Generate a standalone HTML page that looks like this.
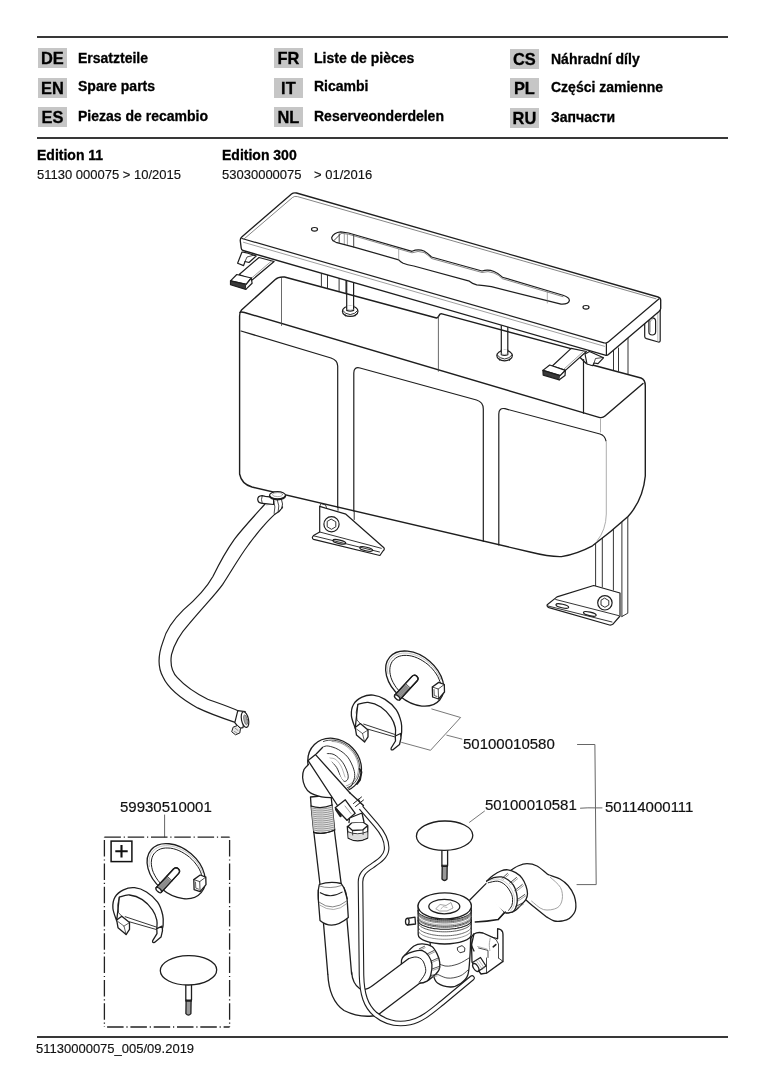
<!DOCTYPE html>
<html><head><meta charset="utf-8">
<style>
*{margin:0;padding:0;box-sizing:border-box}
html,body{width:763px;height:1080px;background:#fff;overflow:hidden}
body{position:relative;font-family:"Liberation Sans",sans-serif;color:#111;-webkit-font-smoothing:antialiased}
.code,.lab,.t,.num{will-change:transform}
.hr{position:absolute;left:37px;width:691px;height:2px;background:#383838}
.code{position:absolute;width:28.8px;height:19.6px;background:#c6c6c6;font-weight:bold;font-size:16.4px;line-height:21.6px;text-align:center;color:#000;-webkit-text-stroke:0.3px #000}
.lab{position:absolute;font-weight:bold;font-size:14px;line-height:14px;color:#000;white-space:nowrap;-webkit-text-stroke:0.3px #000}
.t{position:absolute;white-space:nowrap;line-height:1;color:#111;-webkit-text-stroke:0.15px #111}
.num{position:absolute;white-space:nowrap;font-size:15px;line-height:15px;color:#111;-webkit-text-stroke:0.2px #111}
svg{position:absolute;left:0;top:0}
</style></head><body>
<div class="hr" style="top:35.5px"></div>
<div class="hr" style="top:137px"></div>
<div class="hr" style="top:1036px"></div>

<div class="code" style="left:38px;top:48.2px">DE</div>
<div class="code" style="left:38px;top:77.7px">EN</div>
<div class="code" style="left:38px;top:107px">ES</div>
<div class="code" style="left:274.2px;top:48.2px">FR</div>
<div class="code" style="left:274.2px;top:77.7px">IT</div>
<div class="code" style="left:274.2px;top:107px">NL</div>
<div class="code" style="left:510.3px;top:48.9px">CS</div>
<div class="code" style="left:510.3px;top:78.2px">PL</div>
<div class="code" style="left:510.3px;top:107.5px">RU</div>

<div class="lab" style="left:77.5px;top:51px">Ersatzteile</div>
<div class="lab" style="left:77.5px;top:79.4px">Spare parts</div>
<div class="lab" style="left:77.5px;top:109.2px">Piezas de recambio</div>
<div class="lab" style="left:314px;top:51px">Liste de pièces</div>
<div class="lab" style="left:314px;top:79.4px">Ricambi</div>
<div class="lab" style="left:314px;top:109.2px">Reserveonderdelen</div>
<div class="lab" style="left:550.5px;top:51.5px">Náhradní díly</div>
<div class="lab" style="left:550.5px;top:79.9px">Części zamienne</div>
<div class="lab" style="left:550.5px;top:109.7px">Запчасти</div>

<div class="lab" style="left:37px;top:148px">Edition 11</div>
<div class="t" style="left:37px;top:168px;font-size:13px">51130 000075 &gt; 10/2015</div>
<div class="lab" style="left:221.5px;top:148px">Edition 300</div>
<div class="t" style="left:221.5px;top:168px;font-size:13px">53030000075</div>
<div class="t" style="left:313.5px;top:168px;font-size:13px">&gt; 01/2016</div>

<div class="t" style="left:36px;top:1042px;font-size:13px">51130000075_005/09.2019</div>

<div class="num" style="left:463px;top:735.5px">50100010580</div>
<div class="num" style="left:485px;top:797px">50100010581</div>
<div class="num" style="left:604.8px;top:799.3px">50114000111</div>
<div class="num" style="left:120px;top:799.3px">59930510001</div>

<svg width="763" height="1080" viewBox="0 0 763 1080" fill="none" stroke="#1e1e1e" stroke-width="1.2" stroke-linejoin="round" stroke-linecap="round">
<!-- ===== RAILS (behind) ===== -->
<g stroke-width="0.9">
<path d="M321.4,270 V286 M327.5,272 V288 M339.1,275 V291.2 M345.9,277 V293"/>
<path d="M613.5,350 V369.7 M618.5,348 V371 M628,338 V373.8"/>
<path d="M595.6,530 V586 M602.3,525 V587 M613.4,515 V590 M621.9,505 V616.5 M627.8,495 V613.2 L621.9,616.5"/>
<path d="M338,480 V510.3 M354.2,480 V519.5"/>
</g>
<!-- ===== TANK ===== -->
<g id="tank">
<path d="M239.6,474 V316 Q239.6,312 241.5,310 L275.3,279.5 Q278.5,276.5 284.5,277 L436.5,318 Q438,317.8 439,315.6 Q440,313.4 442,313.9 L571,348.6 L586,363.2 L641,378 Q645.3,379.5 645.3,386 V476 Q643,500 628,516.5 Q612,531 592.5,545.8 Q577,554 561.5,556.6 Q550,557 530,552 L252,487 Q241.5,484 239.6,474 Z" fill="#fff" stroke-width="1.4"/>
<path d="M240,312.5 Q241,311.5 244.5,312.5 L599,417.3 Q602.5,418.3 605,416 L643,383.5" stroke-width="1.4"/>
<!-- inner verticals -->
<path d="M281.5,278.5 V325.5" stroke-width="0.8" stroke="#444"/>
<path d="M438.4,316.5 V371.3" stroke-width="0.8" stroke="#444"/>
<path d="M583.5,359.5 V413.2" />
<!-- right rim front corner short vertical -->
<path d="M600.5,419 V432" stroke="#999" stroke-width="0.8"/>
<!-- left panel -->
<path d="M241,331 L331,358 Q337.7,360.3 337.7,366 V507.5"/>
<!-- middle panel -->
<path d="M353.8,511 V373 Q353.8,366.5 360,368 L476.5,400 Q483.3,402 483.3,409 V541.3"/>
<!-- right panel -->
<path d="M498.8,545 V414 Q498.8,407.5 505,408.7 L600,434 Q605,435.5 606,441"/>
<path d="M606.3,442 V514 Q606,530 597,541" stroke="#999" stroke-width="0.8"/>
</g>
<!-- rods -->
<path d="M346.7,280 V310.7 M353.6,281.5 V310.7" />
<ellipse cx="350.2" cy="311.2" rx="7.8" ry="5.2" fill="#fff"/>
<path d="M342.59999999999997,310.4 Q345.2,314.2 350.2,314.59999999999997 Q355.2,314.2 357.8,310.4" stroke-width="0.9"/>
<path d="M345.0,314.4 L345.4,316.09999999999997 M355.4,314.4 L355.0,316.09999999999997" stroke-width="0.8"/>
<path d="M346.7,305.59999999999997 V310.4 Q350.2,311.8 353.6,310.4 V305.59999999999997" fill="#fff"/>
<path d="M346.9,309.59999999999997 Q350.2,311.0 353.40000000000003,309.59999999999997" stroke="#888" stroke-width="0.7"/>
<path d="M501.3,322 V355.1 M507.8,323.5 V355.1" />
<ellipse cx="504.6" cy="355.6" rx="7.8" ry="5.2" fill="#fff"/>
<path d="M497.0,354.8 Q499.6,358.6 504.6,359.0 Q509.6,358.6 512.2,354.8" stroke-width="0.9"/>
<path d="M499.40000000000003,358.8 L499.8,360.5 M509.8,358.8 L509.40000000000003,360.5" stroke-width="0.8"/>
<path d="M501.3,350.0 V354.8 Q504.6,356.20000000000005 507.8,354.8 V350.0" fill="#fff"/>
<path d="M501.5,354.0 Q504.6,355.40000000000003 507.6,354.0" stroke="#888" stroke-width="0.7"/>
<!-- ===== CLIPS ===== -->
<g id="clipL">
<path d="M242,252 L237.6,263.3 L243.6,265.6 L245,261.5 L249,262.5 L256.2,256 L248,253.2 Z" fill="#fff"/>
<path d="M245,261.5 L247,257 L254.5,255" stroke-width="0.8"/>
<path d="M239.2,274.5 L259,257.5 L274.1,261.5 L252.1,280 Z" fill="#fff"/>
<path d="M250.5,279 L271.5,261" stroke="#777" stroke-width="0.7"/>
<path d="M236.8,274.5 L251.3,278 L246.2,284.3 L230.5,280.8 Z" fill="#fff"/>
<path d="M230.5,280.8 L246.2,284.3 L245.8,289.4 L230.5,284.8 Z" fill="#3a3a3a"/>
<path d="M246.2,284.3 L251.3,278 L252.1,283.3 L245.8,289.4" fill="#fff"/>
</g>
<g id="clipR">
<path d="M585,354 L587,364 L592.7,365.7 L594,363 L598,363.7 L603.5,357.8 L594,353.5 L589.5,351.5 Z" fill="#fff"/>
<path d="M594,363 L595.5,358.5 L603,357.5" stroke-width="0.8"/>
<path d="M552.3,366 L571.2,348.4 L586.4,351.5 L565.4,370.4 Z" fill="#fff"/>
<path d="M563.5,369.5 L584,351" stroke="#777" stroke-width="0.7"/>
<path d="M549.7,365 L565.4,370.4 L560.2,375.6 L542.9,370.4 Z" fill="#fff"/>
<path d="M542.9,370.4 L560.2,375.6 L559.3,379.8 L543.2,375.1 Z" fill="#3a3a3a"/>
<path d="M560.2,375.6 L565.4,370.4 L565,375.6 L559.3,379.8" fill="#fff"/>
</g>
<!-- right mounting ear -->
<path d="M644.7,318 L644.7,336.5 Q644.7,338 646.5,338.6 L658.3,342 Q660.2,342.4 660.2,340.5 L660.2,305" fill="#fff"/>
<path d="M657.8,313 V341" stroke="#999" stroke-width="0.7"/>
<path d="M648.9,321 Q648.9,317.8 652.2,317.8 Q655.6,317.8 655.6,321 V331.8 Q655.6,335 652.2,335 Q648.9,335 648.9,331.8 Z" fill="#fff"/>
<path d="M650.2,321.5 Q650.5,319.5 652.2,319.5 M650.2,321.5 V332" stroke="#777" stroke-width="0.7"/>
<!-- ===== TOP PLATE ===== -->
<g id="plate">
<path d="M296.5,193 L658,297 Q661,298 660.7,301 L660.7,308.5 Q660.5,310 659,311.5 L609,354 Q607.5,355.5 606,355.4 L243,250.5 Q241.3,250 241.2,248 L240.3,241 Q240,238.5 242,236.8 L291.5,194 Q293.5,192.4 296.5,193 Z" fill="#fff" stroke-width="1.35"/>
<path d="M242,238.5 L604,342.8 Q606.5,343.6 608.5,341.8 L658.8,299" />
<path d="M606.4,343.5 V355" />
<path d="M244,239 L292.5,197.5 Q294.5,195.8 297.5,196.6 L656,298.8" stroke="#666" stroke-width="0.8"/>
<path d="M243.5,242.3 L604.5,346.3" stroke="#777" stroke-width="0.7"/>
<!-- slot -->
<path d="M340.7,231.8 L348.6,233 L412,251.3 Q418,248.8 424,251 Q428,253.5 431.5,257 L482,271 Q488,269 494,271.5 Q499,273.5 502.4,277.2 L563,295.3 Q569.5,297.5 569.4,300.5 Q568.5,304.5 561,304.1 L491.4,286.7 Q484,285.5 476.7,284.9 Q472,283.5 469.4,281.2 L413.8,266 Q407,264.8 403.2,263.3 Q400.5,261.7 398.7,259.8 L354.1,247.2 L336,242.3 Q331.5,240.5 331.7,237.5 Q333.5,232.5 340.7,231.8 Z" fill="#fff"/>
<path d="M341,233.2 L348.6,234.3 L412,252.8 Q418,250.3 424,252.5 Q428,255 431.5,258.5 L482,272.5 Q488,270.5 494,273 Q499,275 502.4,278.7 L563,296.7" stroke="#555" stroke-width="0.7"/>
<path d="M333.6,240.9 L340.7,233.8 M339.2,233.8 V242.4 M353.7,235.2 V247.2" stroke="#333" stroke-width="0.9"/>
<path d="M344.3,234 V243.6 M347.4,234.5 V244.6" stroke="#777" stroke-width="0.7"/>
<path d="M398.7,249.2 V259.8 M547.3,291.3 V303" stroke="#777" stroke-width="0.6"/>
<ellipse cx="314.5" cy="229.3" rx="3" ry="1.8"/>
<ellipse cx="586" cy="307.3" rx="3" ry="1.8"/>
</g>
<!-- ===== FEET ===== -->
<g id="footL">
<path d="M319.7,506.4 L345.9,514.2 L383.9,547.7 Q385,549.5 383,551 L379.9,555.5 L313.6,539.4 Q312,538.8 312.5,537 L313.5,535.5 L319.7,532 Z" fill="#fff"/>
<path d="M319.7,532 L381.3,548.3 M313.5,535.8 L379.5,552" stroke-width="0.9"/>
<path d="M319.7,506.4 L321,503.5 L325.5,505 L326.5,507.5" stroke-width="0.8"/>
<circle cx="331.5" cy="524.3" r="7.6" fill="#fff"/>
<path d="M331.5,519.3 L335.8,521.8 L335.8,526.8 L331.5,529.3 L327.2,526.8 L327.2,521.8 Z" stroke-width="0.9"/>
<ellipse cx="339.3" cy="541.8" rx="6.6" ry="1.8" transform="rotate(13 339.3 541.8)"/>
<ellipse cx="366.2" cy="549" rx="6.6" ry="1.8" transform="rotate(13 366.2 549)"/>
</g>
<g id="footR">
<path d="M593.7,585.5 L620,593 V616 L613.4,623.7 Q611.5,625.3 609.5,625 L549,607.6 Q546.5,606.5 547.2,604.7 L557,596.9 Z" fill="#fff"/>
<path d="M555.7,599.5 L618.6,615.6 M548,606 L612,622" stroke-width="0.9"/>
<circle cx="604.9" cy="602.8" r="7.2" fill="#fff"/>
<path d="M604.9,598.3 L608.8,600.6 L608.8,605 L604.9,607.3 L601,605 L601,600.6 Z" stroke-width="0.9"/>
<ellipse cx="562.3" cy="606" rx="6.5" ry="1.8" transform="rotate(13 562.3 606)"/>
<ellipse cx="589.8" cy="613.9" rx="6.5" ry="1.8" transform="rotate(13 589.8 613.9)"/>
</g>
<!-- ===== HOSE ===== -->
<g id="hose">
<path d="M265,504 C257,513 243,528 234.5,539.1 C226,551 218,566 212.9,576.5 C207,587 195,600 183.4,609.9 C173,620 166,630 163,641.6 C158,655 158,668 163,677 C168,688 178,697 197.6,707.9 C208,713 222,718 235.1,722.4"/>
<path d="M282.2,506.5 C279,511 272,516 264,525.4 C257,533 252,540 248.3,545 C240,556 232,570 222.7,584.4 C216,594 204,606 189.3,623.7 C180,634 174,645 171.5,654.6 C170,664 172,672 177.4,677.7 C184,685 193,692 207.7,699.3 C218,703 230,707 238,710.8"/>
<path d="M237.8,710.6 L245.2,711.6 L243,727.6 L240.5,728.2 Q237,726 234.8,722.6 Z" fill="#fff"/>
<ellipse cx="245" cy="719.6" rx="3.5" ry="8" transform="rotate(-12 245 719.6)" fill="#fff"/>
<ellipse cx="245.6" cy="719.8" rx="1.7" ry="5" transform="rotate(-12 245.6 719.8)" fill="#aaa" stroke="#555" stroke-width="0.6"/>
<path d="M233.5,727 L237.5,725.5 L240.5,728.5 L239.8,733 L235.5,734.8 L232,732 Z" fill="#e8e8e8" stroke-width="1"/>
<path d="M235,728 L238,730.5 M234.5,731.5 L237.5,733.5" stroke="#555" stroke-width="0.6"/>
<!-- connector at tank -->
<path d="M265,503.5 L273.5,500 L282,499 Q284,503 282.5,507.5 Q280,512 275.5,514.5 Z" fill="#fff" stroke="none"/>
<path d="M273.6,500.2 Q276,507 274.2,513.3 M277.3,499.8 Q280,506 278.2,511.8" stroke-width="0.8"/>
<path d="M282.5,507 Q280,512 274.8,514.2"/>
<path d="M281.5,499.3 Q283.5,504 281.8,508.5" stroke-width="0.9"/>
<path d="M275,501.5 L266,503.5 M274.8,503.5 L266.5,505" stroke="#999" stroke-width="0.6"/>
<path d="M265.3,496.3 L262,495.6 Q257.6,496 257.7,499.4 Q257.9,503 262.2,503.4 L265.3,503.7 L273.6,504.5 L273.6,497.3 Z" fill="#fff"/>
<path d="M262.2,495.8 Q260.6,499.5 262.2,503.3" stroke-width="0.8"/>
<ellipse cx="277.5" cy="495.3" rx="8" ry="3.6" fill="#fff"/>
<path d="M269.8,496.3 Q270.5,499.3 277.5,499.6 Q284.5,499.3 285.3,496.3" stroke-width="1.7"/>
<ellipse cx="277.5" cy="494.6" rx="5" ry="2" stroke="#777" stroke-width="0.6"/>
</g>
<g stroke-width="1.3"><!--LOWER-->
<path d="M509.6,871.2 C511.0,870.3 515.1,867.2 518.0,866.0 C520.9,864.8 523.8,863.7 527.0,863.7 C530.2,863.7 533.7,864.3 537.0,866.0 C540.3,867.7 544.8,872.2 546.9,873.7 C549.0,875.2 549.0,874.8 549.4,875.0 L549.4,875.0 C551.2,875.7 556.9,877.2 560.0,879.0 C563.1,880.8 565.6,882.7 568.0,885.5 C570.4,888.3 573.0,892.0 574.3,896.0 C575.5,900.0 576.3,906.0 575.5,909.8 C574.7,913.5 571.5,916.6 569.3,918.5 C567.0,920.4 564.5,920.6 562.0,921.0 C559.5,921.4 556.9,921.6 554.4,921.0 C551.9,920.4 548.1,917.8 546.9,917.2 L546.9,917.2 C544.8,915.6 538.0,910.2 534.5,907.3 C531.0,904.4 527.2,901.0 525.7,899.8 Z" fill="#fff"/>
<path d="M550.3,877.3 C552.0,879.0 558.5,883.8 560.5,887.5 C562.5,891.2 562.8,896.0 562.2,899.4 C561.6,902.8 560.2,906.2 557.1,907.9 C554.0,909.6 547.8,910.7 543.5,909.6 C539.2,908.5 533.6,902.5 531.6,901.1" stroke="#999" stroke-width="0.9"/>
<path d="M469.8,900 L486.6,881.2 L512.6,911.9 L498.2,919.5 L475.2,922 Z" fill="#fff" stroke="none"/>
<path d="M475.2,922 Q487,921.5 498.2,919.5 L506.9,909.5"/>
<path d="M486.6,881.2 C487.7,880.2 490.6,877.2 493.0,875.5 C495.4,873.8 498.3,872.0 500.8,871.0 C503.3,870.0 505.4,869.5 507.9,869.8 C510.4,870.1 513.4,871.2 515.7,872.6 C518.1,874.0 520.3,875.9 522.0,878.1 C523.7,880.3 525.1,883.4 526.0,886.0 C526.9,888.6 527.5,891.6 527.5,893.8 C527.5,896.0 526.9,897.6 526.0,899.3 C525.1,901.0 523.7,902.2 522.0,904.0 C520.3,905.8 517.8,908.8 515.7,910.3 C513.6,911.8 511.3,912.3 509.5,912.7 C507.7,913.1 505.8,912.5 505.0,912.5 L498,905 Z" fill="#fff"/>
<path d="M486.6,881.2 C487.8,880.6 491.2,878.4 493.7,877.7 C496.2,877.0 499.2,876.6 501.6,876.9 C504.0,877.2 505.9,878.3 507.9,879.7 C509.9,881.1 512.0,883.0 513.4,885.2 C514.8,887.4 515.9,890.4 516.5,893.0 C517.1,895.6 517.4,898.4 517.3,900.9 C517.2,903.4 516.5,906.2 515.7,908.0 C514.9,909.8 514.2,911.1 512.6,911.9 C511.0,912.7 507.1,912.8 506.0,913.0 L497,906 L486,884 Z" fill="#fff" stroke="none"/>
<path d="M486.6,881.2 C487.8,880.6 491.2,878.4 493.7,877.7 C496.2,877.0 499.2,876.6 501.6,876.9 C504.0,877.2 505.9,878.3 507.9,879.7 C509.9,881.1 512.0,883.0 513.4,885.2 C514.8,887.4 515.9,890.4 516.5,893.0 C517.1,895.6 517.4,898.4 517.3,900.9 C517.2,903.4 516.5,906.2 515.7,908.0 C514.9,909.8 514.2,911.1 512.6,911.9 C511.0,912.7 507.1,912.8 506.0,913.0"/>
<path d="M488.2,882.8 C489.8,882.5 494.8,880.8 497.7,881.2 C500.6,881.6 503.3,883.2 505.5,885.2 C507.7,887.2 509.8,890.6 511.0,893.0 C512.2,895.4 512.5,897.2 512.6,899.3 C512.7,901.4 512.5,903.8 511.8,905.6 C511.1,907.4 509.2,909.5 508.7,910.3" stroke-width="1"/>
<path d="M489.5,880.4 C490.9,880.2 494.9,878.6 497.7,879.0 C500.5,879.4 504.0,880.9 506.5,883.0 C509.0,885.1 511.2,888.8 512.5,891.5 C513.8,894.2 514.3,896.8 514.5,899.3 C514.7,901.8 514.2,904.5 513.5,906.5 C512.8,908.5 511.0,910.2 510.5,911.0" stroke="#aaa" stroke-width="0.6"/>
<path d="M469.8,900 L486,883.6 M498.2,919.5 L505.5,911.9"/>
<path d="M502,878.4 L507.5,873.4" stroke="#333" stroke-width="0.85"/>
<path d="M503.1,879.6 L508.6,874.6" stroke="#777" stroke-width="0.7"/>
<path d="M509.8,883 L516.5,877.5" stroke="#333" stroke-width="0.85"/>
<path d="M510.90000000000003,884.2 L517.6,878.7" stroke="#777" stroke-width="0.7"/>
<path d="M514.8,890.5 L522.3,884.5" stroke="#333" stroke-width="0.85"/>
<path d="M515.9,891.7 L523.4,885.7" stroke="#777" stroke-width="0.7"/>
<path d="M517,899.8 L524.8,894.5" stroke="#333" stroke-width="0.85"/>
<path d="M518.1,901.0 L525.9,895.7" stroke="#777" stroke-width="0.7"/>
<path d="M515.5,906.8 L522.3,903" stroke="#333" stroke-width="0.85"/>
<path d="M516.6,908.0 L523.4,904.2" stroke="#777" stroke-width="0.7"/>
<path d="M471.5,945 L473.9,934 Q478,931.6 483,933 L492.7,937.3 Q495.5,937.8 497.6,938.8 L497.6,928.6 Q501.5,929 502.6,932 Q503.2,934 503,937 L503,961.4 L486.5,973.2 L481,974 L472,962 Z" fill="#fff"/>
<path d="M473.9,934.0 C473.4,934.7 471.4,936.2 471.0,938.0 C470.6,939.8 471.0,942.8 471.5,945.0 C472.0,947.2 473.6,950.0 474.0,951.0" />
<path d="M490.2,938.2 C490.1,939.2 489.4,942.0 489.3,944.0 C489.2,946.0 489.7,949.4 489.8,950.5" stroke="#999" stroke-width="0.9"/>
<path d="M492.7,937.3 Q497,939 498.5,944 L498.5,958 M498.5,958 L503,961.4" stroke-width="0.8"/>
<path d="M478.6,948 L488,950.4 L488,957.5 M486.5,958 L486.5,973.2" stroke-width="0.8"/>
<path d="M477.5,946.5 L487,949" stroke="#888" stroke-width="0.6"/>
<path d="M493.2,946.8 L495.8,944.6" stroke-width="1.6"/>
<path d="M472.5,962.5 L480.5,957.5 L486,966 L478,971.5 Z" fill="#fff"/>
<ellipse cx="475.8" cy="967.5" rx="2.3" ry="4.4" transform="rotate(-33 475.8 967.5)" fill="#fff"/>
<path d="M476.5,961 L482.5,969.5 M478.5,959.8 L484.3,968" stroke="#888" stroke-width="0.6"/>
<path d="M430.0,941.0 C430.2,944.5 431.0,956.4 431.5,962.0 C432.0,967.6 432.2,970.9 433.2,974.4 C434.2,977.9 434.6,980.9 437.5,983.0 C440.4,985.1 446.6,986.9 450.5,987.0 C454.4,987.1 457.7,985.5 460.6,983.5 C463.5,981.5 466.2,979.8 467.8,975.0 C469.4,970.2 469.5,961.2 470.0,955.0 C470.5,948.8 470.5,940.8 470.6,938.0" fill="#fff"/>
<path d="M432.0,960.0 C434.2,961.0 440.7,965.3 445.0,966.0 C449.3,966.7 454.0,965.3 458.0,964.0 C462.0,962.7 467.2,959.0 469.0,958.0" stroke-width="0.8"/>
<path d="M433.0,972.0 C435.3,973.0 442.5,977.3 447.0,978.0 C451.5,978.7 456.5,977.3 460.0,976.0 C463.5,974.7 466.7,971.0 468.0,970.0" stroke-width="0.8"/>
<path d="M457.7,947.5 L462,945.6 L464.9,948 L464.5,951.5 L460,952.8 L457.8,950.5 Z" fill="#fff" stroke-width="0.9"/>
<path d="M418.2,905 L418.2,934.5 A26.5,9.5 0 0 0 471.2,934.5 L471.2,905 Z" fill="#fff"/>
<path d="M471.2,923.0 L471.0,923.7 L470.6,924.4 L470.2,925.1 L469.5,925.7 L468.8,926.4 L467.9,927.0 L466.8,927.6 L465.6,928.2 L464.3,928.7 L462.9,929.2 L461.4,929.7 L459.8,930.1 L458.1,930.5 L456.4,930.9 L454.5,931.1 L452.6,931.4 L450.7,931.6 L448.7,931.7 L446.7,931.8 L444.7,931.8 L442.7,931.8 L440.7,931.7 L438.7,931.6 L436.8,931.4 L434.9,931.1 L433.0,930.9 L431.3,930.5 L429.6,930.1 L428.0,929.7 L426.5,929.2 L425.1,928.7 L423.8,928.2 L422.6,927.6 L421.5,927.0 L420.6,926.4 L419.9,925.7 L419.2,925.1 L418.8,924.4 L418.4,923.7 L418.2,923.0" stroke="#333" stroke-width="0.8"/>
<path d="M471.2,927.0 L471.0,927.7 L470.6,928.4 L470.2,929.1 L469.5,929.7 L468.8,930.4 L467.9,931.0 L466.8,931.6 L465.6,932.2 L464.3,932.7 L462.9,933.2 L461.4,933.7 L459.8,934.1 L458.1,934.5 L456.4,934.9 L454.5,935.1 L452.6,935.4 L450.7,935.6 L448.7,935.7 L446.7,935.8 L444.7,935.8 L442.7,935.8 L440.7,935.7 L438.7,935.6 L436.8,935.4 L434.9,935.1 L433.0,934.9 L431.3,934.5 L429.6,934.1 L428.0,933.7 L426.5,933.2 L425.1,932.7 L423.8,932.2 L422.6,931.6 L421.5,931.0 L420.6,930.4 L419.9,929.7 L419.2,929.1 L418.8,928.4 L418.4,927.7 L418.2,927.0" stroke="#444" stroke-width="0.8"/>
<path d="M471.2,930.5 L471.0,931.2 L470.6,931.9 L470.2,932.6 L469.5,933.2 L468.8,933.9 L467.9,934.5 L466.8,935.1 L465.6,935.7 L464.3,936.2 L462.9,936.7 L461.4,937.2 L459.8,937.6 L458.1,938.0 L456.4,938.4 L454.5,938.6 L452.6,938.9 L450.7,939.1 L448.7,939.2 L446.7,939.3 L444.7,939.3 L442.7,939.3 L440.7,939.2 L438.7,939.1 L436.8,938.9 L434.9,938.6 L433.0,938.4 L431.3,938.0 L429.6,937.6 L428.0,937.2 L426.5,936.7 L425.1,936.2 L423.8,935.7 L422.6,935.1 L421.5,934.5 L420.6,933.9 L419.9,933.2 L419.2,932.6 L418.8,931.9 L418.4,931.2 L418.2,930.5" stroke="#666" stroke-width="0.7"/>
<path d="M471.4,912.0 L471.2,912.7 L470.8,913.4 L470.4,914.1 L469.7,914.7 L468.9,915.4 L468.0,916.0 L467.0,916.6 L465.8,917.2 L464.5,917.7 L463.1,918.2 L461.6,918.7 L459.9,919.1 L458.2,919.5 L456.4,919.9 L454.6,920.1 L452.7,920.4 L450.7,920.6 L448.7,920.7 L446.7,920.8 L444.7,920.8 L442.7,920.8 L440.7,920.7 L438.7,920.6 L436.7,920.4 L434.8,920.1 L433.0,919.9 L431.2,919.5 L429.5,919.1 L427.8,918.7 L426.3,918.2 L424.9,917.7 L423.6,917.2 L422.4,916.6 L421.4,916.0 L420.5,915.4 L419.7,914.7 L419.0,914.1 L418.6,913.4 L418.2,912.7 L418.0,912.0" stroke="#444" stroke-width="0.7"/>
<path d="M471.4,913.1 L471.2,913.8 L470.8,914.5 L470.4,915.2 L469.7,915.8 L468.9,916.5 L468.0,917.1 L467.0,917.7 L465.8,918.3 L464.5,918.8 L463.1,919.3 L461.6,919.8 L459.9,920.2 L458.2,920.6 L456.4,921.0 L454.6,921.2 L452.7,921.5 L450.7,921.7 L448.7,921.8 L446.7,921.9 L444.7,921.9 L442.7,921.9 L440.7,921.8 L438.7,921.7 L436.7,921.5 L434.8,921.2 L433.0,921.0 L431.2,920.6 L429.5,920.2 L427.8,919.8 L426.3,919.3 L424.9,918.8 L423.6,918.3 L422.4,917.7 L421.4,917.1 L420.5,916.5 L419.7,915.8 L419.0,915.2 L418.6,914.5 L418.2,913.8 L418.0,913.1" stroke="#333" stroke-width="0.8"/>
<path d="M471.4,914.2 L471.2,914.9 L470.8,915.6 L470.4,916.3 L469.7,916.9 L468.9,917.6 L468.0,918.2 L467.0,918.8 L465.8,919.4 L464.5,919.9 L463.1,920.4 L461.6,920.9 L459.9,921.3 L458.2,921.7 L456.4,922.1 L454.6,922.3 L452.7,922.6 L450.7,922.8 L448.7,922.9 L446.7,923.0 L444.7,923.0 L442.7,923.0 L440.7,922.9 L438.7,922.8 L436.7,922.6 L434.8,922.3 L433.0,922.1 L431.2,921.7 L429.5,921.3 L427.8,920.9 L426.3,920.4 L424.9,919.9 L423.6,919.4 L422.4,918.8 L421.4,918.2 L420.5,917.6 L419.7,916.9 L419.0,916.3 L418.6,915.6 L418.2,914.9 L418.0,914.2" stroke="#555" stroke-width="0.7"/>
<path d="M471.4,916.1 L471.2,916.8 L470.8,917.5 L470.4,918.2 L469.7,918.8 L468.9,919.5 L468.0,920.1 L467.0,920.7 L465.8,921.3 L464.5,921.8 L463.1,922.3 L461.6,922.8 L459.9,923.2 L458.2,923.6 L456.4,924.0 L454.6,924.2 L452.7,924.5 L450.7,924.7 L448.7,924.8 L446.7,924.9 L444.7,924.9 L442.7,924.9 L440.7,924.8 L438.7,924.7 L436.7,924.5 L434.8,924.2 L433.0,924.0 L431.2,923.6 L429.5,923.2 L427.8,922.8 L426.3,922.3 L424.9,921.8 L423.6,921.3 L422.4,920.7 L421.4,920.1 L420.5,919.5 L419.7,918.8 L419.0,918.2 L418.6,917.5 L418.2,916.8 L418.0,916.1" stroke="#777" stroke-width="0.6"/>
<path d="M471.4,917.4 L471.2,918.1 L470.8,918.8 L470.4,919.5 L469.7,920.1 L468.9,920.8 L468.0,921.4 L467.0,922.0 L465.8,922.6 L464.5,923.1 L463.1,923.6 L461.6,924.1 L459.9,924.5 L458.2,924.9 L456.4,925.3 L454.6,925.5 L452.7,925.8 L450.7,926.0 L448.7,926.1 L446.7,926.2 L444.7,926.2 L442.7,926.2 L440.7,926.1 L438.7,926.0 L436.7,925.8 L434.8,925.5 L433.0,925.3 L431.2,924.9 L429.5,924.5 L427.8,924.1 L426.3,923.6 L424.9,923.1 L423.6,922.6 L422.4,922.0 L421.4,921.4 L420.5,920.8 L419.7,920.1 L419.0,919.5 L418.6,918.8 L418.2,918.1 L418.0,917.4" stroke="#333" stroke-width="0.9"/>
<path d="M471.4,918.5 L471.2,919.2 L470.8,919.9 L470.4,920.6 L469.7,921.2 L468.9,921.9 L468.0,922.5 L467.0,923.1 L465.8,923.7 L464.5,924.2 L463.1,924.7 L461.6,925.2 L459.9,925.6 L458.2,926.0 L456.4,926.4 L454.6,926.6 L452.7,926.9 L450.7,927.1 L448.7,927.2 L446.7,927.3 L444.7,927.3 L442.7,927.3 L440.7,927.2 L438.7,927.1 L436.7,926.9 L434.8,926.6 L433.0,926.4 L431.2,926.0 L429.5,925.6 L427.8,925.2 L426.3,924.7 L424.9,924.2 L423.6,923.7 L422.4,923.1 L421.4,922.5 L420.5,921.9 L419.7,921.2 L419.0,920.6 L418.6,919.9 L418.2,919.2 L418.0,918.5" stroke="#444" stroke-width="0.8"/>
<path d="M471.5,920.0 L471.4,920.7 L471.2,921.5 L470.8,922.2 L470.2,922.9 L469.5,923.6 L468.6,924.2 L467.6,924.9 L466.4,925.5 L465.1,926.0 L463.7,926.6 L462.1,927.1 L460.5,927.5 L458.7,927.9 L456.9,928.3 L455.0,928.6 L453.0,928.8 L451.0,929.0 L448.9,929.2 L446.8,929.3 L444.7,929.3 L442.6,929.3 L440.5,929.2 L438.4,929.0 L436.4,928.8 L434.4,928.6 L432.5,928.3 L430.7,927.9 L428.9,927.5 L427.3,927.1 L425.7,926.6 L424.3,926.0 L423.0,925.5 L421.8,924.9 L420.8,924.2 L419.9,923.6 L419.2,922.9 L418.6,922.2 L418.2,921.5 L418.0,920.7 L417.9,920.0" stroke-width="1.1"/>
<path d="M471.5,910.3 L471.4,911.1 L471.2,911.8 L470.8,912.5 L470.2,913.3 L469.5,914.0 L468.6,914.7 L467.6,915.3 L466.4,915.9 L465.1,916.5 L463.7,917.1 L462.1,917.6 L460.5,918.1 L458.7,918.5 L456.9,918.9 L455.0,919.2 L453.0,919.4 L451.0,919.6 L448.9,919.8 L446.8,919.9 L444.7,919.9 L442.6,919.9 L440.5,919.8 L438.4,919.6 L436.4,919.4 L434.4,919.2 L432.5,918.9 L430.7,918.5 L428.9,918.1 L427.3,917.6 L425.7,917.1 L424.3,916.5 L423.0,915.9 L421.8,915.3 L420.8,914.7 L419.9,914.0 L419.2,913.3 L418.6,912.5 L418.2,911.8 L418.0,911.1 L417.9,910.3" stroke-width="1"/>
<ellipse cx="444.7" cy="905.9" rx="26.7" ry="13" transform="rotate(0 444.7 905.9)" fill="#fff"/>
<ellipse cx="444.3" cy="906.6" rx="15.5" ry="7.2" transform="rotate(0 444.3 906.6)" />
<path d="M436,908.5 L440,904.5 L446,905.5 L451,902.5 L453,908 L447,911 L440,911 Z" stroke="#666" stroke-width="0.6"/>
<path d="M441,909 L443,906.5 L447,907.5" stroke="#777" stroke-width="0.5"/>
<path d="M407,918.5 L415,917.2 L415.5,924 L407.5,925 Z" fill="#fff"/>
<ellipse cx="407.3" cy="921.6" rx="1.8" ry="3.3" transform="rotate(0 407.3 921.6)" fill="#fff"/>
<path d="M404.6,955.4 C406.2,953.8 411.0,947.9 414.0,946.0 C417.0,944.1 419.4,943.8 422.4,943.9 C425.4,944.0 429.4,944.8 431.9,946.5 C434.3,948.2 435.8,951.3 437.1,953.9 C438.4,956.5 439.4,959.7 439.7,962.3 C440.0,964.9 440.0,967.5 439.2,969.6 C438.4,971.7 436.8,973.0 435.0,974.8 C433.2,976.5 429.8,979.2 428.7,980.1 L420,982 L402,962 Z" fill="#fff"/>
<path d="M419.3,948.8 L424.5,946.3" stroke="#333" stroke-width="0.85"/>
<path d="M419.90000000000003,950.1999999999999 L425.1,947.6999999999999" stroke="#777" stroke-width="0.7"/>
<path d="M427,954 L434,950.5" stroke="#333" stroke-width="0.85"/>
<path d="M427.6,955.4 L434.6,951.9" stroke="#777" stroke-width="0.7"/>
<path d="M430.8,961.3 L438.2,958" stroke="#333" stroke-width="0.85"/>
<path d="M431.40000000000003,962.6999999999999 L438.8,959.4" stroke="#777" stroke-width="0.7"/>
<path d="M432.5,968.8 L439,966.5" stroke="#333" stroke-width="0.85"/>
<path d="M433.1,970.1999999999999 L439.6,967.9" stroke="#777" stroke-width="0.7"/>
<path d="M430.5,975.5 L436.5,974.5" stroke="#333" stroke-width="0.85"/>
<path d="M431.1,976.9 L437.1,975.9" stroke="#777" stroke-width="0.7"/>
<path d="M401.5,960.2 C401.9,957.8 402.5,956.9 404.6,955.4 C406.7,953.9 411.0,952.1 414.0,951.3 C417.0,950.5 419.9,949.9 422.4,950.7 C424.8,951.5 427.1,953.7 428.7,956.0 C430.3,958.3 431.5,961.3 431.9,964.4 C432.2,967.5 431.6,972.0 430.8,974.8 C430.0,977.6 429.4,979.7 427.1,981.1 C424.8,982.5 420.2,983.4 417.2,983.2 C414.2,983.0 411.4,982.2 409.0,980.0 C406.6,977.8 403.8,973.3 402.5,970.0 C401.2,966.7 401.1,962.6 401.5,960.2 Z" fill="#fff"/>
<path d="M327.8,973.7 Q329,1000 344,1010.5 Q358,1017.5 372.4,1016 Q378,1015.5 383,1011 L420,983 L423,963 L408.8,958.6 L373.1,985.3 Q366,991 359.8,988.7 Q352.5,984 351.6,972 Z" fill="#fff" stroke="none"/>
<path d="M327.8,973.7 Q329,1000 344,1010.5 Q358,1017.5 372.4,1016 Q378,1015.5 383,1011 L420,983"/>
<path d="M351.6,972 Q352.5,984 359.8,988.7 Q366,991 373.1,985.3 L408.8,958.6"/>
<path d="M408.8,958.6 C410.0,958.3 413.8,956.7 416.1,957.0 C418.4,957.3 420.8,958.3 422.4,960.2 C424.0,962.1 425.2,966.2 425.6,968.6 C426.0,971.0 425.6,972.5 424.5,974.8 C423.4,977.1 420.2,981.0 419.3,982.2" stroke-width="1"/>
<path d="M313.8,832 L320.3,887 L323.4,926 L327.8,974 L351.6,974 L347.2,926 L341.4,885.7 L334.3,830 Z" fill="#fff" stroke="none"/>
<path d="M313.8,832 L320.3,887 M334.3,830 L341.4,885.7 M322.8,915 L327.8,974 M346.6,915 L351.6,974"/>
<path d="M319.3,884.5 L318.3,890 L318.3,899.2 L320,920.4 Q332.4,931 348.3,917.5 L347.1,898.6 L344,887.8 L341.2,883.5 Q330,881 319.3,884.5 Z" fill="#fff"/>
<path d="M320.3,892.7 Q330.6,899 342.1,892.1" stroke-width="1.1"/>
<path d="M319.3,886 Q330,889.5 341.5,885.5" stroke="#555" stroke-width="0.7"/>
<path d="M318.3,899.2 L347.1,898.6" stroke="none"/>
<path d="M319.3,902.3 Q332.5,912.5 347,900.8" stroke="#666" stroke-width="0.8"/>
<path d="M319.5,905 Q334,915 346.9,903.5" stroke="#888" stroke-width="0.7"/>
<path d="M318.3,890 Q318,895 318.4,899.5 M344,887.8 Q346.5,892 347.1,898.6" stroke-width="1.1"/>
<path d="M357,803 C364,811 370,818 376,825 C383,833 387.5,842 386.5,850 C385.5,857 379,861 372,866 C364,871 360.5,875 360.5,882 L361.5,975 C362,995 366,1006 375,1014 C386,1023 398,1025 410,1022.5 C422,1020 432,1011 442,1003 L472,978" stroke="#1e1e1e" stroke-width="5.6"/>
<path d="M357,803 C364,811 370,818 376,825 C383,833 387.5,842 386.5,850 C385.5,857 379,861 372,866 C364,871 360.5,875 360.5,882 L361.5,975 C362,995 366,1006 375,1014 C386,1023 398,1025 410,1022.5 C422,1020 432,1011 442,1003 L472,978" stroke="#fff" stroke-width="3.4"/>
<path d="M310.5,797 L311.1,806 L313.8,832.4 Q323,835 334.7,830 L332.1,806 L331,795 Z" fill="#fff"/>
<path d="M311.2,807 L313.6,831 Q323,834 334.5,829 L332.2,806 Q322,810 311.2,807 Z" fill="#e4e4e4" stroke="none"/>
<path d="M311.5,808 Q322,810.5 332.5,807" stroke="#555" stroke-width="0.55"/>
<path d="M311.7,810 Q322,812.5 332.7,809" stroke="#555" stroke-width="0.55"/>
<path d="M311.9,812 Q322,814.5 332.9,811" stroke="#555" stroke-width="0.55"/>
<path d="M312.1,814 Q322,816.5 333.1,813" stroke="#555" stroke-width="0.55"/>
<path d="M312.3,816 Q322,818.5 333.3,815" stroke="#555" stroke-width="0.55"/>
<path d="M312.5,818 Q322,820.5 333.5,817" stroke="#555" stroke-width="0.55"/>
<path d="M312.7,820 Q322,822.5 333.7,819" stroke="#555" stroke-width="0.55"/>
<path d="M312.9,822 Q322,824.5 333.9,821" stroke="#555" stroke-width="0.55"/>
<path d="M313.1,824 Q322,826.5 334.1,823" stroke="#555" stroke-width="0.55"/>
<path d="M313.3,826 Q322,828.5 334.3,825" stroke="#555" stroke-width="0.55"/>
<path d="M313.5,828 Q322,830.5 334.5,827" stroke="#555" stroke-width="0.55"/>
<path d="M313.7,830 Q322,832.5 334.7,829" stroke="#555" stroke-width="0.55"/>
<path d="M311.1,806 Q321,809.5 332.1,805 M313.8,832.4 Q323,835 334.7,830"/>
<ellipse cx="334.6" cy="765.1" rx="28.8" ry="24.8" transform="rotate(45.5 334.6 765.1)" fill="#fff"/>
<path d="M323.4,741.5 L325.9,740.7 L328.5,740.3 L331.2,740.1 L333.9,740.2 L336.7,740.7 L339.5,741.4 L342.2,742.5 L344.8,743.8 L347.3,745.5 L349.6,747.3 L351.8,749.4 L353.7,751.7 L355.4,754.1 L356.8,756.7 L358.0,759.4 L358.9,762.1 L359.5,764.9 L359.7,767.7 L359.7,770.4 L359.3,773.1 L358.6,775.6 L357.7,778.0 L356.4,780.3 L354.9,782.3 L353.1,784.1 L351.1,785.7 L348.9,786.9 L346.5,787.9 L343.9,788.6 L341.3,789.0 L338.6,789.1 L335.8,788.9 L333.0,788.3 L330.3,787.5 L327.6,786.3 L325.0,784.9 L322.6,783.2 L320.3,781.3 L318.2,779.1 L316.4,776.8" stroke-width="0.8"/>
<path d="M332.0,741.5 L334.2,741.6 L336.4,741.9 L338.5,742.5 L340.7,743.2 L342.8,744.1 L344.8,745.3 L346.8,746.6 L348.6,748.0 L350.3,749.6 L351.9,751.3 L353.4,753.2 L354.7,755.2 L355.8,757.2 L356.7,759.3 L357.5,761.4 L358.0,763.6 L358.3,765.8 L358.5,768.0 L358.4,770.1 L358.1,772.2 L357.6,774.2 L356.9,776.1 L356.0,777.9 L354.9,779.6 L353.7,781.1 L352.2,782.5 L350.7,783.7 L349.0,784.7 L347.1,785.6 L345.2,786.2 L343.2,786.6 L341.1,786.9 L339.0,786.9 L336.8,786.7 L334.6,786.3 L332.5,785.7 L330.3,785.0 L328.3,784.0 L326.2,782.8 L324.3,781.5" stroke="#777" stroke-width="0.7"/>
<path d="M359.5,769 L361.5,772 L360,780 L357,784" stroke-width="1.8"/>
<path d="M308.5,764.5 C307.8,765.3 305.0,767.3 304.0,769.5 C303.0,771.7 302.5,774.7 302.6,777.5 C302.8,780.3 303.6,783.9 304.9,786.5 C306.2,789.1 307.6,791.2 310.4,792.9 C313.2,794.6 318.1,796.0 321.5,796.8 C324.9,797.6 328.3,797.6 330.9,797.6 C333.5,797.6 335.8,796.9 337.2,796.5 C338.6,796.1 339.1,795.2 339.5,795.0 L330,785 Z" fill="#fff" stroke="none"/>
<path d="M308.5,764.5 C307.8,765.3 305.0,767.3 304.0,769.5 C303.0,771.7 302.5,774.7 302.6,777.5 C302.8,780.3 303.6,783.9 304.9,786.5 C306.2,789.1 307.6,791.2 310.4,792.9 C313.2,794.6 318.1,796.0 321.5,796.8 C324.9,797.6 328.3,797.6 330.9,797.6 C333.5,797.6 335.8,796.9 337.2,796.5 C338.6,796.1 339.1,795.2 339.5,795.0"/>
<path d="M323.0,747.0 C323.9,746.8 325.6,745.6 328.1,746.0 C330.7,746.4 335.0,747.6 338.3,749.5 C341.6,751.4 345.1,753.8 347.7,757.1 C350.3,760.4 352.6,765.7 353.7,769.1 C354.8,772.5 354.9,774.8 354.5,777.6 C354.1,780.4 352.2,784.2 351.1,786.1 C350.0,788.0 348.3,788.3 347.7,788.7" stroke-width="0.9"/>
<path d="M322.6,755.4 C322.9,754.7 323.7,753.8 325.6,753.7 C327.5,753.6 331.3,753.2 334.1,754.6 C336.9,756.0 340.3,759.2 342.6,762.3 C344.9,765.4 346.9,770.5 347.7,773.3 C348.5,776.1 348.3,777.9 347.7,779.3 C347.1,780.6 345.4,781.7 344.3,781.4 C343.2,781.1 342.2,779.9 340.9,777.6 C339.6,775.3 338.5,770.2 336.6,767.4 C334.8,764.6 331.9,762.2 329.8,760.6 C327.7,759.0 325.1,758.9 323.9,758.0 C322.7,757.1 322.3,756.1 322.6,755.4 Z" fill="#fff" stroke-width="0.9"/>
<path d="M327.0,758.0 C328.3,758.2 332.7,757.7 335.0,759.0 C337.3,760.3 339.3,763.0 341.0,766.0 C342.7,769.0 344.3,775.2 345.0,777.0" stroke="#888" stroke-width="0.6"/>
<path d="M308.1,760.6 L316.2,754 L321,748 L323,747 L347.7,788.7 L362.9,806 L347,820 Z" fill="#fff" stroke="none"/>
<path d="M308.1,760.6 L347,820 M316.2,755.4 L350,793 M308.1,760.6 L316.2,754 L322.5,747.5"/>
<path d="M350,793 L363.5,805.5"/>
<path d="M347.3,826.5 L348.2,838.2 Q357.5,843.5 367.6,838.2 L367.8,826.5 Z" fill="#fff"/>
<path d="M348.3,832.5 Q357.5,836.5 367.4,832.2 L367.5,837.5 Q357.5,842.5 348.5,837.6 Z" fill="#ddd" stroke="none"/>
<path d="M348,831.8 Q357.5,836 367.5,831.6" stroke-width="0.9"/>
<path d="M348,826.5 L352,822.5 L362.5,821.8 L367.8,825.5 L363,829.8 L352.5,830.5 Z" fill="#fff"/>
<path d="M352.5,830.5 L352.7,835 M363,829.8 L363.1,834.5" stroke-width="0.8"/>
<path d="M349,822.5 L349.5,818 L362,813 L364,822" fill="#fff"/>
<path d="M335.2,807.7 L345.3,799.8 L355.2,813.3 L347,820.3 Z" fill="#fff"/>
<path d="M336.3,809.5 L340.5,815.8" stroke-width="2.6"/>
<path d="M345,806 L351,813.5" stroke="#888" stroke-width="0.8"/>
<path d="M353.5,803.5 L361.5,797 M355.5,806.5 L363.5,800 M358.5,799 L360.5,803" stroke-width="1"/>
<g id="capset">
<ellipse cx="414.7" cy="678.6" rx="32.9" ry="22.9" transform="rotate(40.6 414.7 678.6)" fill="#fff"/>
<path d="M398.4,690.1 L396.4,687.7 L394.7,685.2 L393.2,682.6 L391.9,680.0 L390.9,677.3 L390.3,674.7 L389.9,672.2 L389.8,669.8 L390.0,667.4 L390.5,665.2 L391.3,663.2 L392.3,661.4 L393.7,659.8 L395.3,658.4 L397.1,657.2 L399.2,656.3 L401.5,655.7 L403.9,655.4 L406.4,655.4 L409.1,655.6 L411.8,656.1 L414.6,656.9 L417.4,658.0 L420.1,659.3 L422.8,660.9 L425.4,662.6 L428.0,664.6 L430.3,666.7 L432.5,669.0 L434.5,671.5 L436.3,674.0 L437.8,676.5 L439.0,679.2 L440.0,681.8 L440.7,684.4 L441.1,686.9 L441.2,689.4 L441.0,691.7 L440.5,693.9 L439.8,695.9" stroke-width="1.0"/>
<path d="M388.0,673.9 L387.7,672.0 L387.6,670.2 L387.6,668.4 L387.8,666.7 L388.1,665.0 L388.6,663.4 L389.2,661.9 L390.0,660.5 L390.9,659.2 L392.0,658.0 L393.1,657.0 L394.4,656.0 L395.8,655.2 L397.3,654.5 L398.9,653.9 L400.6,653.5 L402.4,653.2 L404.2,653.1 L406.1,653.1 L408.1,653.3 L410.1,653.6 L412.1,654.0 L414.1,654.6 L416.2,655.3 L418.2,656.1 L420.2,657.1 L422.2,658.1 L424.2,659.3 L426.1,660.6 L427.9,662.1 L429.7,663.6 L431.4,665.1 L433.0,666.8 L434.5,668.5 L435.9,670.3 L437.1,672.2 L438.3,674.0 L439.3,676.0 L440.2,677.9 L441.0,679.8" stroke="#999" stroke-width="0.6"/>
<g transform="translate(397.2,697.5) rotate(-47.4)"><path d="M0,-3.4 H25.545638704302227 A3.4,3.4 0 0 1 25.545638704302227,3.4 H0 Z" fill="#fff"/><rect x="0" y="-2.7" width="15.920101287366226" height="5.4" fill="#aaa" stroke="none"/><path d="M1.4,-2.7 V2.7" stroke="#444" stroke-width="0.5"/><path d="M2.8,-2.7 V2.7" stroke="#444" stroke-width="0.5"/><path d="M4.2,-2.7 V2.7" stroke="#444" stroke-width="0.5"/><path d="M5.6,-2.7 V2.7" stroke="#444" stroke-width="0.5"/><path d="M7.0,-2.7 V2.7" stroke="#444" stroke-width="0.5"/><path d="M8.4,-2.7 V2.7" stroke="#444" stroke-width="0.5"/><path d="M9.8,-2.7 V2.7" stroke="#444" stroke-width="0.5"/><path d="M11.2,-2.7 V2.7" stroke="#444" stroke-width="0.5"/><path d="M12.6,-2.7 V2.7" stroke="#444" stroke-width="0.5"/><path d="M14.0,-2.7 V2.7" stroke="#444" stroke-width="0.5"/><path d="M0,-3.4 H25.545638704302227 A3.4,3.4 0 0 1 25.545638704302227,3.4 H0" /><ellipse cx="0" cy="0" rx="1.7" ry="3.4" fill="#fff"/><path d="M15.920101287366226,-3.4 V3.4" stroke-width="0.6"/></g>
<path d="M432.3,687 L438.7,682.4 L444.3,684.5 L444.5,692 L438.6,699 L432.6,697 Z" fill="#fff"/>
<path d="M432.3,687 L438.2,689 L444.3,684.5 M438.2,689 L438.6,699" stroke-width="0.8"/>
<path d="M434,689.5 L434.3,695.5 L437,696.5" stroke-width="0.7"/>
<path d="M355.2,728.3 C354.6,726.2 351.7,719.6 351.4,715.6 C351.1,711.6 351.7,707.6 353.5,704.5 C355.3,701.4 358.7,698.8 362.0,697.2 C365.3,695.6 369.3,694.7 373.1,695.1 C376.9,695.5 381.2,697.0 385.0,699.4 C388.8,701.8 393.4,705.8 396.1,709.6 C398.8,713.4 400.3,718.6 401.2,722.4 C402.1,726.2 401.7,730.0 401.6,732.6 C401.5,735.2 400.6,736.9 400.4,737.7 L395.3,736 L395.3,736.0 C395.3,734.6 396.0,730.6 395.3,727.5 C394.6,724.4 393.4,720.7 391.0,717.3 C388.6,713.9 384.6,709.5 380.8,707.0 C377.0,704.5 371.8,702.8 368.0,702.4 C364.2,702.0 359.5,704.1 357.8,704.5 Z" fill="#fff"/>
<path d="M357.8,704.5 Q355,712 357,720 L360.3,723.6" stroke-width="0.8"/>
<path d="M363.7,724.1 L394.4,734.3 M368,729.2 L394.4,736.8" stroke-width="0.9"/>
<path d="M355.2,727.5 L360.3,723.6 L368,730 L368,736.8 L364.6,742 L356.5,735.1 Z" fill="#fff"/>
<path d="M356.5,729 L362.5,733.5 L364.6,742 M362.5,733.5 L368,730" stroke-width="0.7"/>
<path d="M395.3,736 L400.6,733.5 L401,738 L399.5,744.5 L393,749.8 Q390.5,750.5 391.2,748 L395.5,741 Z" fill="#fff"/>
</g>
<use href="#capset" transform="translate(-238.5,192.6)"/>
<path d="M431.8,709 L460.6,717.5 L430.5,750.3 L401.6,742.4 M446.8,735.2 L461.9,739.1" stroke="#555" stroke-width="0.8"/>
<path d="M469.5,822.3 L484.5,811.1" stroke="#555" stroke-width="0.8"/>
<g id="plug">
<path d="M441.9,849 V865.5 H447.6 V849" fill="#fff"/>
<path d="M442.2,865.5 L442,879 Q444.5,882 447,879 L447.2,865.5" fill="#999"/>
<path d="M442.1,866.3 H447.3" stroke-width="1.6"/>
<ellipse cx="444.6" cy="835.7" rx="28.2" ry="14.7" transform="rotate(-1 444.6 835.7)" fill="#fff"/>
</g>
<use href="#plug" transform="translate(-256.1,134.6)"/>
<path d="M577.5,744.5 H594.9 L596.2,884.6 H577 M580.5,808.2 Q588,807.6 595.5,807.9 H602" stroke="#666" stroke-width="1"/>
<path d="M164.6,815 V837" stroke="#555" stroke-width="0.9"/>
<path d="M104.4,837.1 H229.6" stroke="#222" stroke-width="1.3" stroke-dasharray="16.5 2.8 1.2 2.8" stroke-dashoffset="0" stroke-linecap="butt"/>
<path d="M104.4,1027 H229.6" stroke="#222" stroke-width="1.3" stroke-dasharray="16.5 2.8 1.2 2.8" stroke-dashoffset="-2.7" stroke-linecap="butt"/>
<path d="M104.4,837.1 V1027" stroke="#222" stroke-width="1.3" stroke-dasharray="16.5 2.8 1.2 2.8" stroke-dashoffset="-3" stroke-linecap="butt"/>
<path d="M229.6,837.1 V1027" stroke="#222" stroke-width="1.3" stroke-dasharray="16.5 2.8 1.2 2.8" stroke-dashoffset="-3" stroke-linecap="butt"/>
<rect x="111.1" y="841.1" width="20.8" height="20.5" stroke="#111" stroke-width="1.5" stroke-linejoin="miter"/>
<path d="M115.3,851.3 H127.7 M121.5,845 V857.6" stroke="#111" stroke-width="2.1" stroke-linecap="butt"/>
<!--/LOWER--></g>
</svg>
</body></html>
